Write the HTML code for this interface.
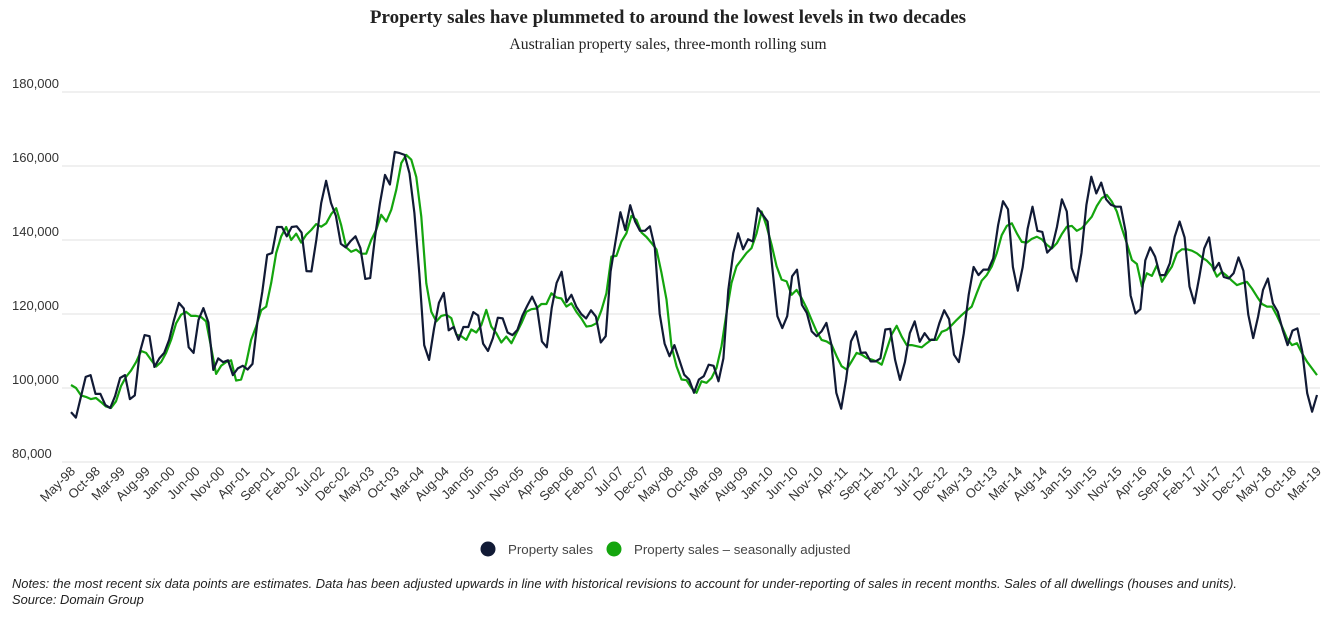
<!DOCTYPE html>
<html><head><meta charset="utf-8"><style>
body{margin:0;width:1336px;height:621px;background:#fff;font-family:"Liberation Sans",sans-serif;overflow:hidden;position:relative}
.t{position:absolute;left:0;width:1336px;text-align:center;font-family:"Liberation Serif",serif;color:#222}
.note{position:absolute;left:12px;font-style:italic;font-size:12.9px;color:#222;white-space:nowrap}
</style></head><body>
<div class="t" style="top:7px;font-size:19px;font-weight:bold">Property sales have plummeted to around the lowest levels in two decades</div>
<div class="t" style="top:36px;font-size:15.7px">Australian property sales, three-month rolling sum</div>
<svg id="c" width="1336" height="621" style="position:absolute;left:0;top:0"></svg>
<div class="note" style="top:576px">Notes: the most recent six data points are estimates. Data has been adjusted upwards in line with historical revisions to account for under-reporting of sales in recent months. Sales of all dwellings (houses and units).</div>
<div class="note" style="top:592px">Source: Domain Group</div>
<script>
const yTicks=[80000,100000,120000,140000,160000,180000];
const xLabels=["May-98","Oct-98","Mar-99","Aug-99","Jan-00","Jun-00","Nov-00","Apr-01","Sep-01","Feb-02","Jul-02","Dec-02","May-03","Oct-03","Mar-04","Aug-04","Jan-05","Jun-05","Nov-05","Apr-06","Sep-06","Feb-07","Jul-07","Dec-07","May-08","Oct-08","Mar-09","Aug-09","Jan-10","Jun-10","Nov-10","Apr-11","Sep-11","Feb-12","Jul-12","Dec-12","May-13","Oct-13","Mar-14","Aug-14","Jan-15","Jun-15","Nov-15","Apr-16","Sep-16","Feb-17","Jul-17","Dec-17","May-18","Oct-18","Mar-19"];
const sales=[93.5,92,97.5,103,103.5,98.4,98.4,95.4,94.6,97.8,102.7,103.5,97,98,109.5,114.3,114,105.7,108,109.5,113,118.4,123,121.5,111,109.5,118.4,121.6,117.7,104.9,108,107,107.5,103.5,105.3,106,105,106.5,117.8,126,136,136.5,143.5,143.5,141,143.5,143.7,142,131.6,131.5,140,150,156,150,146.5,139,138,139.7,141,137.8,129.5,129.7,141,150,157.6,155,163.8,163.5,163,158,147.3,131,111.6,107.6,116,123,125.7,115.6,116.5,113,116.5,116.5,120.5,119.6,
112,110,113.5,119,118.8,115,114.3,115.7,119.5,122.2,124.7,121.8,112.6,111,121.6,128.4,131.4,123.2,125.2,122,120,118.8,121,119.3,112.3,114,131.5,139.6,147.5,142.7,149.4,145,142.5,142.5,143.7,138,120,112,108.6,111.6,107.6,103.6,102.3,98.7,102.3,103.2,106.3,106,101.8,108,126.5,136.4,141.8,137.5,140.2,139.6,148.6,146.8,145,132,119.4,116.2,119.4,130.2,132,122.5,120.3,115.3,114,115.3,117.6,111.7,98.7,94.4,102.3,112.6,115.3,109.5,109.6,107.2,107.2,108,115.8,116,
107.6,102.2,107,114.8,118,112.5,114.8,113,113,117.5,121,118.6,109,107,114.8,125.2,132.7,130.5,132,132,135,144,150.5,148.3,132.7,126.3,132.7,143,149,142.5,142.2,136.6,138,143.6,151,147.7,132.4,128.8,136.5,149.5,157.1,152.6,155.5,151,149.5,149,149,142.2,125,120.1,121.3,134.5,138,135.5,130.5,130.5,133.7,140.9,145,140.7,127.4,122.9,130,137.7,140.7,131.8,133.8,130,129.6,131,135.3,131.7,119.8,113.5,119.3,126.5,129.6,122.9,120.6,115.7,111.6,115.5,116.1,109.8,98.6,93.6,98.1];
const salesSA=[100.8,100,98,97.6,97,97.3,96.2,95,94.6,96.4,100.5,103,104.7,107,110,109.5,107.6,105.8,107,109.5,113,117.5,119.8,120.6,119.5,119.5,119.2,118,111,103.8,106,107,107.5,102,102.3,106.6,113,116.6,121,122,128.4,136.5,141,143.5,140,141.7,139.3,141.4,142.7,144.3,143.6,144.5,147,148.6,144,138,136.8,137.4,136.3,136.3,140,142.7,146.8,145,148.2,153.6,160.8,163,161.7,157,146.3,128.3,120.6,118,119.5,119.8,118.9,114.4,114,113,115.8,115,117,
121.1,116.6,114.8,112.3,113.9,112.1,114.8,117.5,120.6,121.3,121.5,122.7,122.7,125.6,124.5,124.2,122,122.9,120.6,118.8,116.6,116.8,117.5,121,125.6,135.5,135.7,139.6,141.8,146.5,145.4,142,140.8,139.2,137.4,131.1,123.9,111.3,105.9,102.3,102.1,100,98.7,101.8,101.4,102.7,105.4,111.3,120.3,128.4,132.9,134.7,136.5,137.8,141.8,147.7,143.7,138.7,132.9,129.3,128.8,125.2,126.5,124.3,121.6,118.4,115.3,113,112.6,111.7,108.6,105.9,105,107.2,109.5,109,108.1,107.7,107.2,106.3,110.4,114.5,116.8,
113.9,111.6,111.6,111.3,111,112.1,113.1,113,115.2,115.7,117,118.4,119.7,120.9,122,125.6,129,130.5,132.8,136.4,141.3,143.8,144.5,141.8,139.5,139.3,140.3,140.9,140.2,138.7,137.7,139.1,141.6,143.6,143.8,142.5,143.2,144.7,146.3,149.2,151.3,152.2,150.4,147.7,143.2,139.1,134.6,133.5,127.4,131,130.3,133.2,128.7,130.8,132.8,136.4,137.5,137.5,137.1,136.4,135.3,134.4,133,130.1,131.4,130.3,129,127.8,128.3,128.7,126.9,124.7,122.7,122,122,119.5,116.6,113.4,111.6,112.1,109.4,107.1,105.3,103.5];
const NS="http://www.w3.org/2000/svg",svg=document.getElementById('c');
const X0=71,X1=1317,Y0=462,Y1=92;
const y=v=>Y0-(v-80000)/(100000)*(Y0-Y1);
const xm=(i,n)=>X0+i*(X1-X0)/(n-1);
function mk(t,a,txt){const e=document.createElementNS(NS,t);for(const k in a)e.setAttribute(k,a[k]);if(txt!=null)e.textContent=txt;svg.appendChild(e);return e;}
yTicks.forEach(v=>{
 const g=mk('line',{x1:62,x2:1320,y1:y(v),y2:y(v),stroke:'#e2e2e2','stroke-width':1});
 
 
 const t=mk('text',{x:12,y:y(v)-4,'font-size':13,fill:'#333','font-family':'Liberation Sans'},v.toLocaleString('en-US'));
 
 
});
xLabels.forEach((l,k)=>{
 const xx=xm(k*5,251);
 const t=mk('text',{x:0,y:0,'font-size':13,fill:'#333','text-anchor':'end','font-family':'Liberation Sans',transform:`translate(${xx+5},${472}) rotate(-45)`},l);
 
 
});
function line(arr,col,name){
 const n=arr.length;
 const d=arr.map((v,i)=>(i?'L':'M')+xm(i,n).toFixed(1)+','+y(v*1000).toFixed(1)).join('');
 const p=mk('path',{d,fill:'none',stroke:col,'stroke-width':2.2,'stroke-linejoin':'round'});
 
 
}
line(salesSA,'#14a50e','line-seasonally-adjusted');
line(sales,'#111a35','line-property-sales');
[[488,'#111a35','Property sales','legend-property-sales'],[614,'#14a50e','Property sales \u2013 seasonally adjusted','legend-seasonally-adjusted']].forEach(([lx,c,txt,nm])=>{
 const ci=mk('circle',{cx:lx,cy:549,r:7.5,fill:c});
 
 
 const t=mk('text',{x:lx+20,y:554,'font-size':13.3,fill:'#444','font-family':'Liberation Sans'},txt);
 
 
});
</script>
</body></html>
